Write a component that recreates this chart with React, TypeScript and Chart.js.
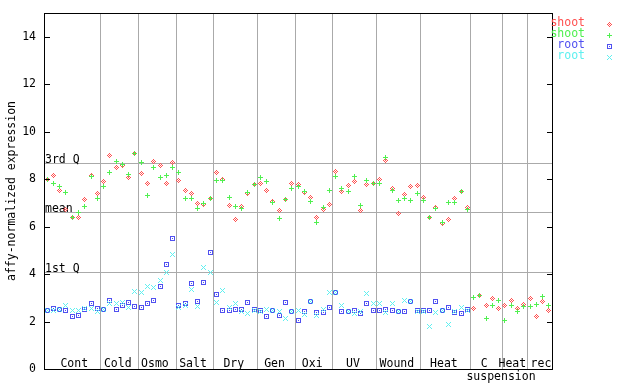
import React, { useEffect, useRef } from "react";
import { Chart, registerables } from "chart.js";

Chart.register(...registerables);

const groupLabels = ["Cont", "Cold", "Osmo", "Salt", "Dry", "Gen", "Oxi", "UV", "Wound", "Heat", "C", "Heat", "rec"];
const groupSizes = [9, 6, 6, 6, 7, 6, 6, 7, 7, 8, 5, 4, 4];
const labelShift = [2, -1.5, -2, -1.5, -1.5, -1.5, -1.5, -1.5, -1.5, -1.5, -2, -2, 1.5];
const subLabel = "suspension";
const yTicks = [0, 2, 4, 6, 8, 10, 12, 14];
const quartileValues = [8.68, 6.62, 4.09];
const quartileLabels = ["3rd Q", "mean", "1st Q"];
const seriesNames = ["shoot", "shoot", "root", "root"];
const seriesColors = ["#ff5050", "#50f050", "#5050f0", "#60f0f0"];
const yTitle = "affy-normalized expression";

const shootRed = [
  7.97, 8.14, 7.52, 6.74, 6.40, 6.39, 7.16, 8.14, 7.38,
  7.89, 9.00, 8.47, 8.57, 8.05, 9.10,
  8.23, 7.83, 8.76, 8.57, 7.83, 8.72,
  7.96, 7.52, 7.38, 6.96, 6.95, 7.20,
  8.26, 7.97, 6.88, 6.29, 6.86, 7.38, 7.76,
  7.83, 7.52, 7.07, 6.67, 7.13, 7.82,
  7.79, 7.44, 7.22, 6.37, 6.71, 6.95,
  8.34, 7.49, 7.75, 7.88, 6.69, 7.79, 7.83,
  8.00, 8.80, 7.62, 6.57, 7.34, 7.71, 7.75,
  7.24, 6.40, 6.82, 6.15, 6.32, 7.17, 7.46, 6.82,
  2.56, 3.11, 2.69, 2.98, 2.56,
  2.69, 2.90, 2.56, 2.73,
  2.98, 2.22, 2.86, 2.48,
];
const shootGreen = [
  7.97, 7.81, 7.71, 7.43, 6.40, 6.58, 6.84, 8.10, 7.20,
  7.71, 8.30, 8.76, 8.60, 8.19, 9.10,
  8.72, 7.29, 8.51, 8.05, 8.14, 8.47,
  8.26, 7.20, 7.20, 6.78, 6.96, 7.20,
  7.96, 7.96, 7.24, 6.86, 6.78, 7.43, 7.76,
  8.05, 7.88, 7.00, 6.36, 7.13, 7.59,
  7.71, 7.50, 7.07, 6.19, 6.80, 7.52,
  8.09, 7.59, 7.46, 8.09, 6.90, 7.96, 7.83,
  7.83, 8.93, 7.52, 7.12, 7.20, 7.12, 7.41,
  7.12, 6.40, 6.78, 6.19, 7.00, 7.00, 7.46, 6.74,
  3.02, 3.11, 2.14, 2.69, 2.90,
  2.05, 2.69, 2.43, 2.64,
  2.64, 2.73, 3.07, 2.69,
];
const rootBlue = [
  2.45, 2.56, 2.50, 2.47, 2.22, 2.25, 2.51, 2.77, 2.56,
  2.50, 2.90, 2.49, 2.69, 2.81, 2.65,
  2.60, 2.74, 2.87, 3.46, 4.39, 5.51,
  2.69, 2.74, 3.59, 2.85, 3.63, 4.92,
  3.15, 2.47, 2.47, 2.51, 2.51, 2.81, 2.51,
  2.45, 2.22, 2.47, 2.26, 2.81, 2.44,
  2.05, 2.43, 2.86, 2.39, 2.39, 2.60,
  3.24, 2.43, 2.43, 2.48, 2.35, 2.77, 2.48,
  2.48, 2.52, 2.48, 2.43, 2.43, 2.86, 2.48,
  2.48, 2.48, 2.86, 2.48, 2.60, 2.39, 2.35, 2.52,
];
const rootCyan = [
  2.45, 2.47, 2.50, 2.66, 2.45, 2.45, 2.54, 2.54, 2.42,
  2.50, 2.77, 2.77, 2.81, 2.60, 3.25,
  3.21, 3.49, 3.44, 3.71, 4.05, 4.84,
  2.59, 2.69, 3.35, 2.65, 4.29, 4.08,
  2.81, 3.29, 2.60, 2.78, 2.42, 2.35, 2.46,
  2.44, 2.49, 2.47, 2.44, 2.14, 2.44,
  2.45, 2.31, 2.86, 2.26, 2.52, 3.24,
  3.24, 2.69, 2.43, 2.35, 2.43, 3.19, 2.77,
  2.77, 2.39, 2.77, 2.43, 2.90, 2.86, 2.43,
  2.43, 1.80, 2.39, 2.48, 1.89, 2.43, 2.60, 2.48,
];

const FONT = "11.5px 'DejaVu Sans Mono', monospace";

function makeMarker(kind: string, color: string): HTMLCanvasElement {
  const c = document.createElement("canvas");
  c.width = 5;
  c.height = 5;
  const g = c.getContext("2d")!;
  g.fillStyle = color;
  const px = (dx: number, dy: number) => g.fillRect(2 + dx, 2 + dy, 1, 1);
  for (let dx = -2; dx <= 2; dx++) {
    for (let dy = -2; dy <= 2; dy++) {
      const ad = Math.abs(dx), bd = Math.abs(dy);
      let on = false;
      if (kind === "diamond") on = ad + bd <= 2 && (ad + bd) % 2 === 0;
      else if (kind === "plus") on = dx === 0 || dy === 0;
      else if (kind === "square") on = ad === 2 || bd === 2 || (dx === 0 && dy === 0);
      else if (kind === "x") on = ad === bd;
      if (on) px(dx, dy);
    }
  }
  return c;
}

export default function App() {
  const ref = useRef<HTMLCanvasElement | null>(null);

  useEffect(() => {
    document.body.style.margin = "0";
    const canvas = ref.current;
    if (!canvas) return;
    const kinds = ["diamond", "plus", "square", "x"];
    const markers = kinds.map((k, i) => makeMarker(k, seriesColors[i]));
    const toPts = (arr: number[]) => arr.map((v, i) => ({ x: i + 0.5, y: v }));
    const total = groupSizes.reduce((a, b) => a + b, 0);

    const decor = {
      id: "decor",
      beforeDatasetsDraw(chart: any) {
        const { ctx, chartArea: a, scales } = chart;
        const xs = scales.x, ys = scales.y;
        ctx.save();
        ctx.strokeStyle = "#aaaaaa";
        ctx.lineWidth = 1;
        let cum = 0;
        ctx.font = FONT;
        ctx.fillStyle = "#000";
        ctx.textAlign = "center";
        ctx.textBaseline = "alphabetic";
        groupSizes.forEach((n, gi) => {
          const x0 = xs.getPixelForValue(cum);
          cum += n;
          const x1 = xs.getPixelForValue(cum);
          if (gi < groupSizes.length - 1) {
            const px = Math.round(x1) + 0.5;
            ctx.beginPath();
            ctx.moveTo(px, a.top);
            ctx.lineTo(px, a.bottom);
            ctx.stroke();
          }
          ctx.fillText(groupLabels[gi], (x0 + x1) / 2 + labelShift[gi], a.bottom - 2);
        });
        ctx.fillText(subLabel, 501, a.bottom + 11);
        quartileValues.forEach((v, qi) => {
          const py = Math.round(ys.getPixelForValue(v)) + 0.5;
          ctx.beginPath();
          ctx.moveTo(a.left, py);
          ctx.lineTo(a.right, py);
          ctx.stroke();
          ctx.textAlign = "left";
          ctx.fillText(quartileLabels[qi], a.left + 1, py - 1);
        });
        ctx.restore();
        ctx.imageSmoothingEnabled = false;
      },
      afterDraw(chart: any) {
        const { ctx, chartArea: a, scales } = chart;
        const ys = scales.y;
        ctx.save();
        ctx.strokeStyle = "#000";
        ctx.lineWidth = 1;
        ctx.strokeRect(a.left + 0.5, a.top + 0.5, a.right - a.left, a.bottom - a.top);
        ctx.font = FONT;
        ctx.fillStyle = "#000";
        ctx.textAlign = "right";
        ctx.textBaseline = "middle";
        yTicks.forEach((t) => {
          const py = Math.round(ys.getPixelForValue(t)) + 0.5;
          ctx.beginPath();
          ctx.moveTo(a.left, py);
          ctx.lineTo(a.left + 6, py);
          ctx.moveTo(a.right - 5, py);
          ctx.lineTo(a.right, py);
          ctx.stroke();
          ctx.fillText(String(t), a.left - 8, py);
        });
        ctx.save();
        ctx.translate(12, (a.top + a.bottom) / 2);
        ctx.rotate(-Math.PI / 2);
        ctx.textAlign = "center";
        ctx.fillText(yTitle, 0, 0);
        ctx.restore();
        ctx.imageSmoothingEnabled = false;
        seriesNames.forEach((name, i) => {
          const ly = a.top + 10.5 + i * 11;
          ctx.fillStyle = seriesColors[i];
          ctx.textAlign = "right";
          ctx.fillText(name, 585, ly);
          ctx.drawImage(markers[i], 607, Math.round(ly) - 2);
        });
        ctx.restore();
      },
    };

    const all = [shootRed, shootGreen, rootBlue, rootCyan];
    const chart = new Chart(canvas, {
      type: "scatter",
      data: {
        datasets: all.map((arr, i) => ({
          label: seriesNames[i],
          data: toPts(arr),
          pointStyle: markers[i] as any,
          pointRadius: 3,
          pointHoverRadius: 3,
          borderColor: seriesColors[i],
          backgroundColor: seriesColors[i],
          showLine: false,
          order: 3 - i,
        })),
      },
      options: {
        responsive: false,
        animation: false,
        events: [],
        layout: { padding: { left: 44, right: 88, top: 13, bottom: 15 } },
        plugins: { legend: { display: false }, tooltip: { enabled: false } },
        scales: {
          x: { type: "linear", min: 0, max: total, display: false },
          y: { type: "linear", min: 0, max: 15, display: false },
        },
      },
      plugins: [decor],
    });
    return () => chart.destroy();
  }, []);

  return <canvas ref={ref} width={640} height={384} style={{ display: "block" }} />;
}
